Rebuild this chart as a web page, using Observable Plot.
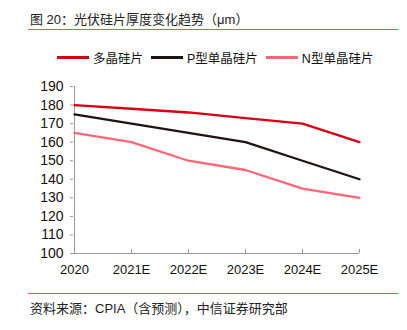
<!DOCTYPE html>
<html><head><meta charset="utf-8">
<script src="https://cdn.jsdelivr.net/npm/d3@7"></script>
<script src="https://cdn.jsdelivr.net/npm/@observablehq/plot@0.6"></script>
<style>
body{margin:0;background:#fff;font-family:"Liberation Sans",Arial,"Noto Sans CJK SC",sans-serif;}
#wrap{position:relative;width:407px;height:330px;overflow:hidden;}
.title{position:absolute;left:30px;top:9px;font-size:13px;color:#222;}
.hr{position:absolute;left:28px;width:370px;height:0;border-top:1px solid #e05a5a;}
.legend{position:absolute;top:48px;left:57px;display:flex;align-items:center;font-size:12.5px;color:#111;white-space:nowrap;}
.legend .sw{display:inline-block;width:32px;height:3px;margin-right:4px;}
.legend .it{display:flex;align-items:center;margin-right:8px;}
.src{position:absolute;left:30px;top:298px;font-size:13px;color:#222;}
#chart{position:absolute;left:0;top:70px;}
</style></head>
<body><div id="wrap">
<div class="title">图 20：光伏硅片厚度变化趋势（μm）</div>
<div class="hr" style="top:29px"></div>
<div class="legend" id="legend"></div>
<div id="chart"></div>
<div class="hr" style="top:293px"></div>
<div class="src">资料来源：CPIA（含预测），中信证券研究部</div>
</div>
<script>
const years = ["2020","2021E","2022E","2023E","2024E","2025E"];
const seriesNames = ["多晶硅片","P型单晶硅片","N型单晶硅片"];
const multi = [180,178,176,173,170,160];
const pMono = [175,170,165,160,150,140];
const nMono = [165,160,150,145,135,130];
const yTicks = [100,110,120,130,140,150,160,170,180,190];
const colors = ["#d50015","#1e1414","#ff6677"];

const data = [];
[multi,pMono,nMono].forEach((arr,i)=>arr.forEach((v,j)=>data.push({year:years[j],value:v,series:seriesNames[i]})));

const leg = document.getElementById("legend");
seriesNames.forEach((s,i)=>{
  const it=document.createElement("span");it.className="it";
  it.innerHTML=`<span class="sw" style="background:${colors[i]}"></span><span>${s}</span>`;
  leg.appendChild(it);
});

const chart = Plot.plot({
  width:407,height:215,
  marginTop:16,marginBottom:32,marginLeft:73,marginRight:48,
  style:{fontFamily:'"Liberation Sans",Arial,sans-serif',fontSize:"13px",color:"#111",background:"transparent"},
  x:{type:"point",domain:years,padding:0,label:null},
  y:{domain:[100,190],ticks:yTicks,label:null},
  color:{domain:seriesNames,range:colors},
  marks:[
    Plot.ruleX([years[0]],{stroke:"#999",strokeWidth:1}),
    Plot.ruleY([yTicks[0]],{stroke:"#999",strokeWidth:1}),
    Plot.axisY({ticks:yTicks,tickSize:3,tickPadding:7,stroke:"#999",label:null,fill:"#111",fontSize:14}),
    Plot.axisX({tickSize:-4,tickPadding:15,stroke:"#999",label:null,fill:"#111"}),
    Plot.line(data,{x:"year",y:"value",stroke:"series",z:"series",strokeWidth:2.3})
  ]
});
document.getElementById("chart").appendChild(chart);
</script>
</body></html>
